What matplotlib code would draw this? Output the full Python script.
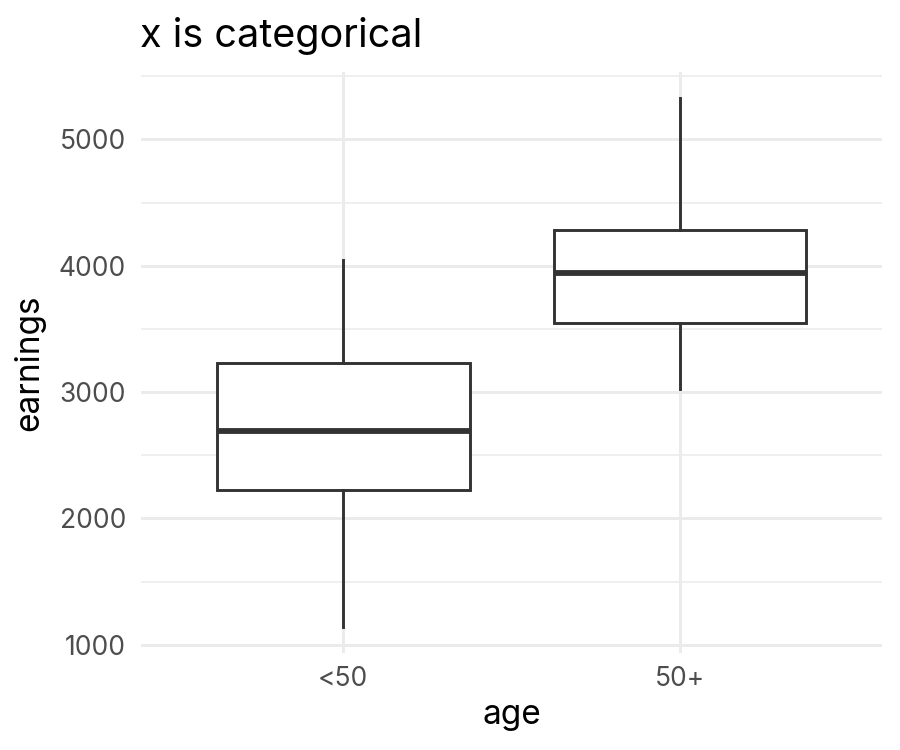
import matplotlib
matplotlib.use("Agg")
import matplotlib.pyplot as plt

plt.rcParams['font.family'] = ['Inter', 'DejaVu Sans']

groups = ["<50", "50+"]
whislo = [1142, 3024]
q1 = [2225, 3545]
med = [2692, 3941]
q3 = [3229, 4281]
whishi = [4043, 5324]

stats = []
for i in range(len(groups)):
    stats.append({"label": groups[i], "whislo": whislo[i], "q1": q1[i],
                  "med": med[i], "q3": q3[i], "whishi": whishi[i], "fliers": []})

fig = plt.figure(figsize=(9, 7.5), dpi=100)
ax = fig.add_axes([0.157, 0.129, 0.823, 0.775])

line = "#333333"
ax.bxp(stats, positions=[1, 2], widths=0.75, showcaps=False, patch_artist=True,
       boxprops=dict(facecolor="white", edgecolor=line, linewidth=2.1),
       whiskerprops=dict(color=line, linewidth=2.1),
       medianprops=dict(color=line, linewidth=4.2),
       zorder=3)

ax.set_xlim(0.4, 2.6)
ax.set_ylim(933, 5533)
ax.set_yticks([1000, 2000, 3000, 4000, 5000])
ax.set_yticks([1500, 2500, 3500, 4500, 5500], minor=True)
ax.set_xticks([1, 2])
ax.set_xticklabels(groups)

ax.grid(True, which="major", color="#EBEBEB", linewidth=2.1, zorder=0)
ax.grid(True, which="minor", axis="y", color="#EBEBEB", linewidth=1.1, zorder=0)
ax.set_axisbelow(True)
for s in ax.spines.values():
    s.set_visible(False)
ax.tick_params(which="both", length=0)
ax.tick_params(axis="y", labelsize=19, labelcolor="#4D4D4D", pad=11)
ax.tick_params(axis="x", labelsize=19, labelcolor="#4D4D4D", pad=9)

ax.set_xlabel("age", fontsize=24, labelpad=5)
ax.set_ylabel("earnings", fontsize=24, labelpad=10)
ax.set_title("x is categorical", fontsize=28.5, loc="left", x=-0.002, pad=18)

fig.savefig("out.png", dpi=100)
